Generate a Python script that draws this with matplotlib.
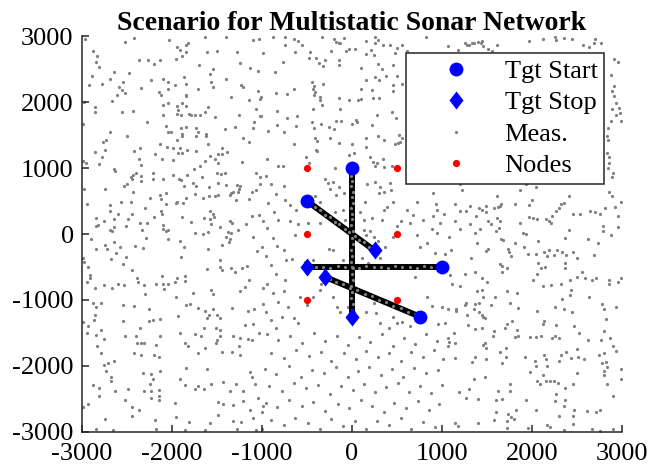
import matplotlib
matplotlib.use('Agg')
import matplotlib.pyplot as plt

# target start / stop positions (m)
start_x = [0, -500, 1000, 750]
start_y = [1000, 500, -500, -1250]
stop_x = [0, 250, -500, -300]
stop_y = [-1250, -250, -500, -650]

# sensor nodes
node_x = [-500, 500, -500, 500, -500, 500]
node_y = [1000, 1000, 0, 0, -1000, -1000]

# detections close to the target tracks
track_meas = [
    (10, 950), (-15, 880), (5, 800), (-10, 720), (15, 640), (-5, 560), (10, 470), (-15, 390),
    (5, 300), (0, 220), (-10, 130), (10, 40), (-5, -60), (15, -150), (-10, -240), (5, -330),
    (-15, -420), (10, -520), (-5, -610), (15, -700), (-10, -790), (5, -880), (-15, -970),
    (10, -1060), (-5, -1150), (5, -1220),
    (-460, 470), (-410, 405), (-360, 365), (-300, 295), (-250, 255), (-190, 185), (-140, 145),
    (-80, 75), (-30, 35), (30, -25), (80, -85), (130, -125), (190, -195), (230, -225),
    (950, -495), (880, -505), (800, -490), (720, -510), (640, -495), (560, -505), (480, -490),
    (400, -510), (320, -495), (240, -505), (160, -490), (80, -510), (0, -495), (-80, -505),
    (-160, -490), (-240, -510), (-320, -495), (-400, -505), (-460, -490),
    (700, -1215), (620, -1185), (540, -1125), (460, -1090), (380, -1035), (300, -1000),
    (220, -940), (140, -910), (60, -850), (-20, -815), (-100, -760), (-180, -725), (-250, -675),
]

# clutter detections
clutter = [
    (-2970, 2950), (-2520, 2910), (-2420, 2970), (-2030, 2940), (-1630, 2980), (-1400, 2990), (-1100, 2940), (-1030, 2960),
    (-2880, 2780), (-2830, 2690), (-2840, 2610), (-2810, 2530), (-2370, 2630), (-2270, 2630), (-2200, 2580), (-2130, 2630),
    (-1960, 2650), (-1890, 2700), (-1850, 2870), (-1820, 2900), (-1940, 2830), (-1910, 2790), (-1840, 2750), (-1610, 2750),
    (-1500, 2770), (-1280, 2760), (-1700, 2560), (-1540, 2500), (-1580, 2430), (-1240, 2590), (-1130, 2510), (-1050, 2470),
    (-2890, 2400), (-2920, 2250), (-2780, 2280), (-2690, 2350), (-2640, 2450), (-2540, 2310), (-2480, 2440), (-2590, 2220),
    (-2560, 2180), (-2520, 2130), (-2610, 2100), (-2670, 2020), (-2340, 2210), (-2230, 2330), (-2100, 2350), (-2050, 2310),
    (-1970, 2260), (-1870, 2380), (-1840, 2280), (-2040, 2190), (-2150, 2150), (-2120, 2110), (-1710, 2190), (-1570, 2300),
    (-1550, 2230), (-1400, 2350), (-1230, 2250), (-1210, 2220), (-1050, 2170), (-1020, 2050), (-1140, 2030), (-1340, 2080),
    (-1840, 2100), (-1850, 2090), (-2980, 2000), (-2860, 1920), (-2860, 1850), (-2560, 1850), (-2430, 1870), (-2100, 1960),
    (-2040, 1980), (-1940, 1940), (-1890, 1980), (-1840, 1940), (-1930, 1880), (-1940, 1820), (-1900, 1810), (-1810, 1820),
    (-1790, 1800), (-1740, 1800), (-1690, 1800), (-1630, 1850), (-1600, 1920), (-1520, 1770), (-2100, 1800), (-2280, 1700),
    (-2990, 1660), (-1260, 1800), (-1070, 1900), (-1020, 1790), (-1090, 1690), (-1100, 1600), (-1300, 1620), (-1410, 1590),
    (-2690, 1540), (-2770, 1400), (-2730, 1430), (-2500, 1480), (-2070, 1630), (-2050, 1540), (-2010, 1540), (-1890, 1510),
    (-1890, 1480), (-1850, 1620), (-1900, 1600), (-1730, 1600), (-1710, 1550), (-1620, 1520), (-1620, 1480), (-1730, 1490),
    (-2130, 1370), (-2060, 1320), (-1940, 1430), (-1990, 1300), (-1910, 1310), (-1890, 1230), (-1830, 1280), (-1600, 1360),
    (-1210, 1450), (-1150, 1400), (-2860, 1240), (-2740, 1280), (-2780, 1160), (-2420, 1250), (-2360, 1300), (-2370, 1140),
    (-2340, 1050), (-2190, 1210), (-2110, 1130), (-1990, 1120), (-1930, 1230), (-1730, 1250), (-1630, 1100), (-1580, 1180),
    (-1520, 1130), (-1490, 1210), (-1440, 1210), (-1390, 1240), (-1440, 1310), (-1490, 1070), (-1690, 1030), (-1220, 1090),
    (-2960, 1080), (-2990, 1110), (-2810, 1060), (-2640, 990), (-1760, 990),
    (-880, 2990), (-740, 2990), (-640, 2950), (-600, 2920), (-560, 2860), (-740, 2860), (-330, 2990), (-200, 2960),
    (-180, 2910), (-150, 2890), (-130, 2900), (-90, 2970), (160, 2920), (250, 2990), (290, 2940), (260, 2890),
    (340, 2860), (420, 2870), (500, 2820), (560, 2870), (610, 2780), (820, 2990), (-990, 2740), (-630, 2750),
    (-470, 2760), (-230, 2770), (-70, 2770), (-30, 2800), (30, 2810), (150, 2720), (210, 2790), (240, 2710),
    (480, 2740), (-770, 2610), (-480, 2660), (-400, 2660), (-370, 2590), (-300, 2630), (-320, 2540), (-140, 2630),
    (-140, 2560), (290, 2570), (330, 2500), (460, 2560), (100, 2510), (-860, 2460), (160, 2330), (250, 2380),
    (300, 2340), (380, 2400), (500, 2390), (560, 2280), (460, 2260), (450, 2170), (-450, 2310), (-420, 2240),
    (-430, 2190), (-410, 2150), (-320, 2270), (-650, 2200), (-850, 2130), (-720, 2120), (-1010, 2070), (-420, 2100),
    (-360, 2070), (-360, 2030), (-330, 1960), (-150, 2060), (-30, 2030), (70, 2030), (100, 2040), (230, 2060),
    (300, 2060), (100, 2190), (220, 2180), (-430, 1890), (-130, 1900), (-830, 1860), (-1010, 1790), (-720, 1760),
    (-610, 1790), (-830, 1650), (-620, 1640), (-930, 1560), (-760, 1540), (-440, 1700), (-420, 1610), (-340, 1670),
    (-260, 1620), (-200, 1590), (-180, 1710), (-120, 1710), (0, 1660), (40, 1720), (60, 1690), (220, 1650),
    (280, 1810), (440, 1850), (490, 1750), (-410, 1460), (-390, 1410), (-400, 1280), (-390, 1250), (-640, 1370),
    (-240, 1450), (-140, 1380), (0, 1370), (160, 1450), (290, 1490), (360, 1420), (150, 1320), (480, 1370),
    (510, 1380), (530, 1400), (520, 1500), (560, 1460), (-30, 1200), (20, 1230), (-940, 1140), (-820, 1030),
    (-770, 1030), (-510, 1170), (-480, 1080), (-190, 1000), (200, 1160), (230, 1090), (280, 1070), (260, 1030),
    (340, 1130), (360, 1020), (440, 1030),
    (1070, 2850), (1180, 2790), (1250, 2890), (1280, 2860), (1300, 2870), (1330, 2890), (1360, 2900), (1400, 2910),
    (1430, 2900), (1440, 2920), (1460, 2850), (1510, 2810), (1560, 2770), (1610, 2870), (1970, 2920), (2120, 2950),
    (2250, 2990), (2270, 2940), (2360, 2970), (2440, 2950), (2570, 2870), (2630, 2830), (2690, 2900), (2700, 2950),
    (2770, 2890), (2910, 2650), (2950, 2600), (2880, 2410), (2910, 2240), (2890, 2170), (2910, 2090), (2930, 1990),
    (2970, 1910), (2890, 1900), (2980, 1840), (2930, 1800), (2990, 1710), (2880, 1710), (2840, 1610), (2830, 1490),
    (2840, 1420), (2830, 1230), (2850, 1170), (2860, 1080), (2840, 1000),
    (1200, 750), (1220, 660), (1930, 760), (1870, 670), (2040, 710), (1610, 570), (1140, 450), (1200, 350),
    (1270, 350), (1310, 430), (1380, 270), (1410, 390), (1440, 360), (1490, 420), (1490, 340), (1580, 400),
    (1620, 410), (1640, 430), (1660, 450), (1810, 460), (1970, 440), (2000, 510), (2410, 570), (2350, 470),
    (2320, 450), (2300, 400), (2270, 350), (2220, 280), (2190, 200), (2160, 230), (2210, 160), (2010, 240),
    (2060, 220), (1970, 250), (1870, 170), (1140, 190), (1200, 70), (1310, 150), (1370, 20), (1420, 80),
    (1510, 200), (1540, 150), (1610, 240), (1640, 190), (1630, 90), (1600, 50), (1080, -40), (1390, -130),
    (1660, -80), (1680, -90), (1810, -140), (1900, 10), (1930, 0), (2070, -110), (1910, -200), (1960, -300),
    (2040, -300), (2130, -280), (2190, -240), (2240, -320), (2280, -250), (2330, -270), (2170, -330), (2380, -320),
    (2460, -270), (2500, -360), (2370, -440), (2370, -510), (1100, -250), (1320, -370), (1490, -260), (1510, -220),
    (1730, -230), (1740, -280), (1770, -330), (1640, -450), (1670, -490), (1720, -510), (1670, -570), (2070, -440),
    (2100, -520), (2140, -500), (2050, -600), (2010, -700), (2120, -790), (2210, -770), (2320, -750), (2420, -690),
    (2500, -650), (2550, -580), (2590, -670), (2670, -700), (2710, -660), (2430, -850), (2330, -980), (2420, -930),
    (2630, -950), (2450, 300), (2530, 300), (2640, 350), (2700, 330), (2760, 310), (2810, 400), (2850, 630),
    (2890, 580), (2890, 860), (2920, 410), (2990, 490), (2960, 280), (2790, 120), (2790, 50), (2880, -20),
    (2950, 100), (2410, 60), (2370, -60), (2620, -80), (2730, -130), (2690, -320), (2850, -700), (2860, -760),
    (2950, -730), (2990, -670), (1090, -620), (1110, -750), (1200, -790), (1260, -610), (1370, -570), (1440, -670),
    (1500, -720), (1390, -860), (1440, -850), (1720, -860), (1830, -900), (1590, -960), (1450, -960), (2900, 920),
    (-2630, 960), (-2460, 870), (-2430, 900), (-2400, 920), (-2340, 880), (-2450, 830), (-2350, 810), (-2210, 930),
    (-2210, 830), (-2100, 830), (-1990, 900), (-1920, 840), (-1900, 820), (-1830, 900), (-1770, 780), (-1730, 720),
    (-1870, 730), (-1670, 870), (-1590, 710), (-1500, 930), (-1460, 910), (-1410, 920), (-1490, 770), (-1400, 740),
    (-1280, 740), (-1240, 730), (-1260, 680), (-1320, 640), (-1340, 620), (-1360, 590), (-1270, 640), (-1070, 920),
    (-1020, 870), (-1020, 750), (-1070, 660), (-1110, 630), (-1150, 530), (-1290, 520), (-1490, 590), (-1590, 580),
    (-2980, 680), (-2950, 460), (-2750, 680), (-2530, 730), (-2500, 760), (-2430, 630), (-2690, 440), (-2690, 350),
    (-2570, 480), (-2460, 480), (-2300, 390), (-2240, 540), (-2130, 590), (-2120, 530), (-2070, 620), (-2070, 450),
    (-1960, 470), (-1940, 480), (-1880, 470), (-1840, 540), (-1740, 610), (-1660, 550), (-1520, 580),
    (-2840, 240), (-2820, 130), (-2850, 120), (-2760, 200), (-2690, 60), (-2670, 50), (-2650, 100), (-2640, 220),
    (-2600, 310), (-2490, 220), (-2510, 120), (-2440, 300), (-2360, 170), (-2330, 60), (-2280, 160), (-2200, 250),
    (-2120, 350), (-2110, 310), (-2100, 140), (-2100, 80), (-2070, 50), (-2040, 60), (-1890, 250), (-1790, 180),
    (-1650, 240), (-1580, 350), (-1540, 310), (-1530, 260), (-1580, 220), (-1570, 150), (-1470, 100), (-1360, 200),
    (-1330, 160), (-1180, 150), (-1110, 270), (-1030, 290), (-990, 190), (-1740, 10), (-1660, 0), (-1600, 30),
    (-1380, 30), (-1340, 20), (-1400, -40), (-1360, -70), (-1370, -120), (-1270, 60), (-1100, -40),
    (-2900, -80), (-2290, -60), (-2040, -80), (-1910, -100), (-1870, -190), (-2850, -230), (-2740, -170), (-2720, -220),
    (-2650, -120), (-2580, -200), (-2620, -290), (-2510, -350), (-2680, -380), (-2410, -180), (-2320, -210), (-1900, -350),
    (-1600, -230), (-1440, -170), (-1060, -260), (-1000, -200), (-2990, -370), (-2980, -430), (-2930, -500), (-2910, -620),
    (-2910, -670), (-2940, -720), (-2550, -450), (-2440, -550), (-2110, -640), (-2050, -750), (-1940, -660), (-1860, -640),
    (-1860, -710), (-1610, -530), (-1470, -390), (-1470, -500), (-1440, -540), (-1340, -520), (-1300, -570), (-1220, -520),
    (-1170, -490), (-1150, -690), (-1190, -810), (-1240, -870), (-2860, -820), (-2760, -770), (-2670, -820), (-2600, -760),
    (-2530, -770), (-2390, -670), (-2380, -720), (-2310, -770), (-2180, -750), (-2100, -750), (-2090, -830), (-1970, -720),
    (-1960, -960), (-2300, -910), (-1770, -890), (-1570, -850), (-1540, -910), (-990, -820),
    (-2880, -1040), (-2790, -1040), (-2840, -1110), (-2540, -1070), (-2420, -1090), (-2260, -1130), (-1840, -1080), (-1800, -1060),
    (-1710, -1120), (-1630, -1170), (-1540, -1130), (-1330, -1120), (-1160, -1170), (-1090, -1130), (-990, -1060),
    (-2860, -1220), (-2870, -1300), (-2930, -1390), (-2990, -1340), (-2950, -1500), (-2840, -1530), (-2790, -1460), (-2760, -1590),
    (-2550, -1320), (-2520, -1540), (-2400, -1540), (-2360, -1430), (-2260, -1320), (-2210, -1310), (-2130, -1290), (-2130, -1540),
    (-2180, -1680), (-2390, -1650), (-2350, -1650), (-2310, -1650), (-2420, -1800), (-2340, -1840), (-2200, -1840), (-2150, -1870),
    (-1930, -1240), (-1910, -1500), (-1860, -1650), (-1820, -1690), (-1740, -1520), (-1680, -1550), (-1710, -1810), (-1650, -1430),
    (-1610, -1280), (-1590, -1230), (-1500, -1220), (-1470, -1270), (-1510, -1420), (-1470, -1450), (-1470, -1540), (-1500, -1600),
    (-1510, -1650), (-1630, -1730), (-1450, -1790), (-1320, -1540), (-1240, -1580), (-1330, -1790), (-1260, -1700), (-1240, -1830),
    (-1190, -1380), (-1100, -1370), (-1160, -1590), (-1110, -1610), (-1030, -1500),
    (-2830, -1700), (-2790, -1810), (-2760, -1980), (-2710, -1960), (-2730, -2080), (-2680, -2170), (-2680, -2230), (-2640, -1930),
    (-2880, -2290), (-2810, -2330), (-2810, -2450), (-2630, -2380), (-2520, -2510), (-2490, -2350), (-2310, -2380), (-2230, -2380),
    (-2230, -2480), (-2150, -2450), (-2140, -2520), (-2320, -2100), (-2230, -2120), (-2210, -2190), (-2130, -2070), (-2240, -2270),
    (-2150, -2360), (-1840, -2030), (-1610, -2040), (-1910, -2200), (-1860, -2290), (-1740, -2350), (-1710, -2310), (-1650, -2350),
    (-1570, -2280), (-1430, -2240), (-1290, -2280), (-1210, -2380), (-1110, -2170), (-1080, -2280), (-1360, -2380), (-1210, -2530),
    (-1130, -2090), (-1040, -2480), (-2990, -2620), (-2930, -2580), (-2740, -2800), (-2450, -2620), (-2370, -2670), (-2450, -2760),
    (-2190, -2820), (-1970, -2560), (-1960, -2770), (-1810, -2850), (-1580, -2860), (-1490, -2540), (-1430, -2570), (-1320, -2590),
    (-1490, -2740), (-1320, -2840), (-1230, -2850), (-1130, -2670), (-1100, -2790), (-1000, -2700), (-990, -2600),
    (-2840, -2960), (-2660, -2970), (-2180, -2960), (-1860, -2970), (-1630, -2970), (-1280, -2960), (-1070, -2970), (-1000, -2960),
    (1070, -1140), (1150, -1170), (1160, -1130), (1250, -1070), (1270, -1040), (1280, -1220), (1350, -1130), (1370, -1060),
    (1410, -1050), (1410, -1180), (1440, -1230), (1460, -1260), (1480, -1270), (1540, -1070), (1750, -1040), (1840, -1120),
    (2060, -1170), (2260, -1100), (2360, -1140), (2440, -1180), (2780, -1060), (2800, -1130), (2930, -1110), (2820, -1290),
    (1290, -1380), (1370, -1440), (1440, -1430), (1130, -1500), (1070, -1580), (1080, -1630), (1070, -1690), (1140, -1650),
    (1450, -1680), (1480, -1650), (1490, -1730), (1570, -1550), (1580, -1470), (1720, -1370), (1700, -1430), (1780, -1320),
    (1830, -1460), (1840, -1540), (1810, -1560), (2130, -1320), (2120, -1370), (2270, -1380), (2470, -1390), (2520, -1500),
    (1980, -1560), (2040, -1560), (2100, -1550), (2220, -1570), (2250, -1540), (2300, -1580), (2620, -1600), (2770, -1600),
    (2870, -1570), (2800, -1470), (1140, -1880), (1330, -1940), (1370, -1860), (1490, -1900), (1640, -1790), (1670, -1960),
    (1710, -1720), (1710, -1860), (1920, -1870), (2030, -1930), (2130, -1830), (2150, -1900), (2040, -2000), (2170, -2000),
    (1980, -2090), (2120, -2130), (2300, -1920), (2320, -1840), (2380, -1790), (2430, -1880), (2510, -1860), (2500, -1740),
    (2580, -1900), (2740, -1830), (2800, -1810), (2780, -1960), (2820, -1940), (2830, -2020), (2800, -2080), (2800, -2140),
    (2900, -1690), (2930, -1780), (2990, -2040), (2990, -2200), (2500, -2100), (2060, -2220), (2090, -2270), (2160, -2230),
    (2200, -2220), (2240, -2230), (2290, -2250), (2370, -2340), (2460, -2280), (2830, -2280), (1480, -2170), (1360, -2190),
    (1300, -2350), (1190, -2390), (1270, -2480), (1400, -2500), (1620, -2380), (1750, -2270), (1760, -2380), (1670, -2500),
    (1600, -2520), (1930, -2510), (2270, -2420), (2250, -2530), (2370, -2510), (2360, -2610), (1600, -2690), (1730, -2730),
    (1770, -2770), (1800, -2810), (1820, -2670), (1720, -2840), (1580, -2820), (2040, -2660), (2300, -2750), (2470, -2660),
    (2460, -2750), (2460, -2880), (2610, -2680), (2710, -2700), (2750, -2670), (2900, -2450), (1140, -2870), (1180, -2910),
    (1400, -2870), (1720, -2940), (1960, -2940), (2170, -2900), (2200, -2930), (2360, -2970), (2670, -2960), (2760, -2980),
    (2900, -2960),
    (-300, 830), (-270, 770), (-210, 790), (-240, 680), (-150, 710), (-90, 620), (-180, 590), (-360, 490),
    (-410, 570), (-760, 720), (-740, 520), (-620, 360), (-690, 440), (-690, 190), (-600, 150), (-630, -20),
    (-490, 160), (-360, 160), (-210, 210), (-190, 340), (-80, 210), (-100, 360), (90, 340), (130, 210),
    (140, 490), (170, 760), (250, 790), (310, 710), (300, 620), (350, 630), (420, 780), (430, 670),
    (450, 490), (390, 410), (350, 360), (330, 210), (220, 240), (200, 40), (130, 60), (150, -20),
    (240, -50), (290, -100), (370, -190), (460, -40), (500, 120), (540, 200), (610, 370), (640, 160),
    (680, 290), (720, 490), (720, -20), (760, -200), (830, -130), (890, 80), (930, 460), (940, 360),
    (1020, 300), (980, 160), (900, 270), (790, 210), (940, 10), (900, 620), (920, -290), (1030, -300),
    (790, -470), (700, -650), (830, -950), (890, -1090), (1000, -1100), (950, -1360), (1030, -1350), (500, -1350),
    (550, -1330), (640, -1400), (-760, -240), (-730, -390), (-670, -380), (-740, -700), (-760, -870), (-710, -1100),
    (-780, -1250), (-650, -1280), (-600, -1350), (-580, -950), (-500, -1080), (-430, -950), (-360, -850), (-340, -750),
    (-210, -950), (-170, -1100), (-130, -1180), (-40, -1100), (20, -1180), (160, -1180), (240, -1050), (270, -1200),
    (310, -1350), (410, -1430), (460, -1250), (-430, -390), (-520, -420), (-370, -470), (-260, -220), (-210, -240),
    (-100, -400), (110, -370), (180, -440), (310, -370), (420, -500),
    (-960, 880), (-900, 760), (-850, 610), (-930, 470), (-870, 330), (-820, 210), (-950, 90), (-880, -60),
    (-830, -180), (-960, -330), (-900, -470), (-850, -600), (-940, -760), (-880, -900), (-820, -1030), (-960, -1180),
    (-900, -1310), (-840, -1420),
    (-950, -1520), (-820, -1600), (-690, -1550), (-560, -1650), (-420, -1500), (-300, -1620), (-170, -1540), (-40, -1680),
    (80, -1560), (200, -1640), (330, -1520), (450, -1700), (580, -1580), (700, -1660), (820, -1520), (940, -1620),
    (-900, -1800), (-760, -1880), (-620, -1760), (-480, -1850), (-350, -1790), (-230, -1920), (-90, -1810), (40, -1890),
    (160, -1770), (290, -1860), (410, -1800), (540, -1930), (660, -1790), (790, -1870), (910, -1760), (1010, -1900),
    (-970, -2050), (-840, -2120), (-700, -2000), (-570, -2160), (-440, -2060), (-310, -2110), (-180, -2020), (-50, -2170),
    (70, -2080), (190, -2010), (320, -2140), (440, -2050), (570, -2170), (690, -2030), (820, -2110), (950, -2060),
    (-920, -2300), (-780, -2380), (-650, -2260), (-510, -2340), (-380, -2290), (-250, -2420), (-120, -2310), (10, -2360),
    (130, -2270), (260, -2400), (380, -2320), (510, -2260), (630, -2390), (760, -2300), (880, -2410), (1000, -2290),
    (-960, -2560), (-830, -2620), (-700, -2510), (-560, -2600), (-430, -2540), (-300, -2680), (-160, -2570), (-30, -2640),
    (100, -2520), (220, -2610), (350, -2700), (470, -2560), (600, -2640), (730, -2530), (850, -2670), (970, -2580),
    (-900, -2820), (-760, -2900), (-630, -2790), (-490, -2870), (-360, -2950), (-230, -2800), (-100, -2910), (30, -2840),
    (150, -2960), (280, -2830), (410, -2900), (540, -2790), (660, -2950), (790, -2850), (920, -2920),
]

plt.rcParams['font.family'] = 'Liberation Serif'
plt.rcParams['axes.unicode_minus'] = False

fig = plt.figure(figsize=(6.61, 4.69), dpi=100)
ax = fig.add_axes([82 / 661, 37 / 469, 540 / 661, 396 / 469])

gray = '#808080'

# clutter first, then the true tracks, then track detections on top
ax.plot([p[0] for p in clutter], [p[1] for p in clutter], 'o', color=gray, ms=2.3, mew=0, zorder=1)
for i in range(len(start_x)):
    ax.plot([start_x[i], stop_x[i]], [start_y[i], stop_y[i]], '-', color='black', lw=4.3, zorder=2,
            solid_capstyle='butt')
meas, = ax.plot([p[0] for p in track_meas], [p[1] for p in track_meas], 'o', color=gray, ms=2.3, mew=0,
                zorder=3, label='Meas.')
nodes, = ax.plot(node_x, node_y, 'o', color='red', ms=5.2, mew=0, zorder=4, label='Nodes')
diamond = [(0, 1), (0.78, 0), (0, -1), (-0.78, 0), (0, 1)]
stops, = ax.plot(stop_x, stop_y, marker=diamond, ls='none', color='blue', ms=13, mew=0, zorder=5,
                 label='Tgt Stop')
starts, = ax.plot(start_x, start_y, 'o', color='blue', ms=10, mew=0, zorder=6, label='Tgt Start')

ax.set_xlim(-3000, 3000)
ax.set_ylim(-3000, 3000)
ax.set_xticks(range(-3000, 3001, 1000))
ax.set_yticks(range(-3000, 3001, 1000))
ax.spines['top'].set_visible(False)
ax.spines['right'].set_visible(False)
for s in ['left', 'bottom']:
    ax.spines[s].set_color('#262626')
    ax.spines[s].set_linewidth(1.1)
ax.tick_params(direction='in', length=5, width=1.1, color='#262626', labelcolor='black',
               labelsize=19, pad=6)
ax.tick_params(axis='x', pad=8)

ax.set_title('Scenario for Multistatic Sonar Network', fontsize=20, fontweight='bold', pad=1)

leg = ax.legend(handles=[starts, stops, meas, nodes], loc='upper right',
                bbox_to_anchor=(0.967, 0.957), fontsize=19, frameon=True, fancybox=False,
                framealpha=1, edgecolor='#262626', borderpad=0.25, handlelength=3.3,
                handletextpad=0.2, labelspacing=0.3, borderaxespad=0)
leg.get_frame().set_linewidth(1.1)

fig.savefig('out.png', dpi=100)
